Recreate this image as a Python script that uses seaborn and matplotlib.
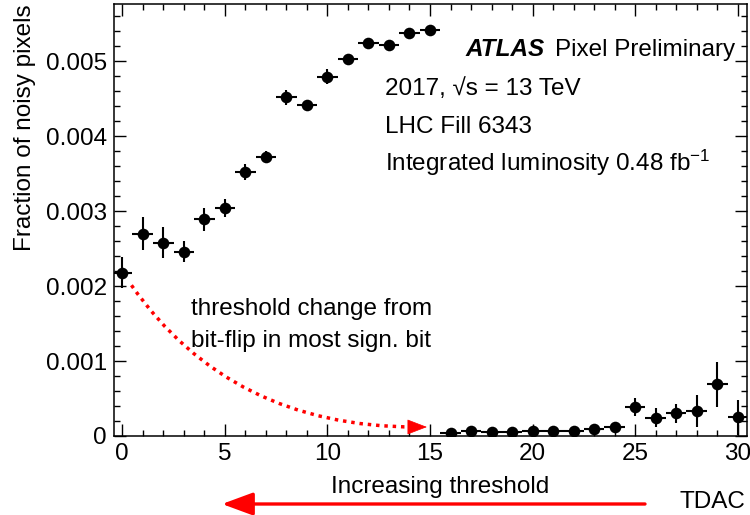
import numpy as np
import pandas as pd
import matplotlib
matplotlib.use("Agg")
import matplotlib.pyplot as plt
from matplotlib.ticker import MultipleLocator, FuncFormatter
import seaborn as sns

# ---- data ----
tdac = list(range(31))
fraction = [0.00218, 0.00270, 0.00258, 0.00246, 0.00289, 0.00304, 0.00352, 0.003725,
            0.00452, 0.00442, 0.00479, 0.00503, 0.00524, 0.00522, 0.00537, 0.00541,
            0.000044, 0.00007, 0.000057, 0.000057, 0.00007, 0.00007, 0.00007, 0.000089,
            0.000116, 0.000383, 0.000244, 0.000302, 0.000333, 0.000689, 0.000249]
frac_err = [0.00021, 0.00022, 0.00021, 0.00014, 0.00015, 0.00012, 0.00011, 0.00007,
            0.00010, 0.00006, 0.00010, 0.00006, 0.00006, 0.00005, 0.00007, 0.00005,
            0.00002, 0.00002, 0.00002, 0.00002, 0.00002, 0.00002, 0.00002, 0.00002,
            0.00003, 0.00012, 0.00013, 0.00013, 0.00021, 0.00030, 0.00023]
bin_halfwidth = 0.5

df = pd.DataFrame({"TDAC": tdac, "fraction": fraction, "err": frac_err})

sns.set_theme(style="ticks")
plt.rcParams["font.family"] = ["Liberation Sans", "DejaVu Sans"]
plt.rcParams["mathtext.fontset"] = "custom"
plt.rcParams["mathtext.rm"] = "Liberation Sans"
plt.rcParams["mathtext.it"] = "Liberation Sans:italic"
plt.rcParams["mathtext.bf"] = "Liberation Sans:bold"
for k in ["text.color", "axes.labelcolor", "xtick.color", "ytick.color", "axes.edgecolor"]:
    plt.rcParams[k] = "black"

FS = 17.5
fig = plt.figure(figsize=(7.5, 5.15), dpi=100)
ax = fig.add_axes([0.152, 0.1534, 0.844, 0.8388])

ax.errorbar(df["TDAC"], df["fraction"], xerr=bin_halfwidth, yerr=df["err"],
            fmt="none", ecolor="black", elinewidth=1.5, capsize=0, zorder=2)
sns.scatterplot(data=df, x="TDAC", y="fraction", ax=ax, color="black",
                s=70, edgecolor="black", linewidth=0, zorder=3, legend=False)

ax.set_xlim(-0.4, 30.45)
ax.set_ylim(0, 0.00576)

ax.xaxis.set_major_locator(MultipleLocator(5))
ax.xaxis.set_minor_locator(MultipleLocator(1))
ax.yaxis.set_major_locator(MultipleLocator(0.001))
ax.yaxis.set_minor_locator(MultipleLocator(0.0002))
ax.yaxis.set_major_formatter(FuncFormatter(lambda v, p: "0" if abs(v) < 1e-12 else f"{v:.3f}"))

ax.tick_params(which="both", direction="in", top=True, right=True, width=1.0,
               labelsize=FS, colors="black")
ax.tick_params(which="major", length=8.5, pad=5)
ax.tick_params(which="minor", length=4.3)
for s in ax.spines.values():
    s.set_linewidth(1.1)
    s.set_color("black")

ax.set_ylabel("Fraction of noisy pixels", fontsize=FS, loc="top", labelpad=7)
ax.set_xlabel("Increasing threshold", fontsize=FS, labelpad=8, x=0.515)

# Labels in the plot
ax.text(0.556, 0.88, "ATLAS", transform=ax.transAxes, fontsize=FS,
        fontweight="bold", fontstyle="italic", va="baseline")
ax.text(0.697, 0.88, "Pixel Preliminary", transform=ax.transAxes, fontsize=FS, va="baseline")
ax.text(0.428, 0.789, "2017, √s = 13 TeV", transform=ax.transAxes, fontsize=FS, va="baseline")
ax.text(0.428, 0.701, "LHC Fill 6343", transform=ax.transAxes, fontsize=FS, va="baseline")
ax.text(0.428, 0.613, r"Integrated luminosity 0.48 fb$^{-1}$", transform=ax.transAxes,
        fontsize=FS, va="baseline")

ax.text(0.1216, 0.28, "threshold change from", transform=ax.transAxes, fontsize=FS, va="baseline")
ax.text(0.1216, 0.206, "bit-flip in most sign. bit", transform=ax.transAxes, fontsize=FS, va="baseline")

# dotted curved arrow
ax.annotate("", xy=(14.3, 0.00012), xytext=(0.45, 0.00201),
            arrowprops=dict(arrowstyle="-", color="red", lw=2.5, linestyle=(0, (1, 1.4)),
                            capstyle="butt",
                            connectionstyle="angle3,angleA=-55,angleB=0",
                            shrinkA=0, shrinkB=0))
ax.annotate("", xy=(14.85, 0.00012), xytext=(14.0, 0.00012),
            arrowprops=dict(arrowstyle="-|>,head_length=13,head_width=5", mutation_scale=1,
                            color="red", lw=0.5, shrinkA=0, shrinkB=0))

# bottom arrow and TDAC label
fig.text(680 / 750, 2 / 515, "TDAC", fontsize=FS, va="bottom")
ax.annotate("", xy=(222 / 750, 1 - 504 / 515), xytext=(645 / 750, 1 - 504 / 515),
            xycoords="figure fraction", textcoords="figure fraction",
            arrowprops=dict(arrowstyle="-|>,head_length=19,head_width=7", mutation_scale=1,
                            color="red", lw=2.4, shrinkA=0, shrinkB=0),
            annotation_clip=False)

fig.savefig("out.png", dpi=100)
